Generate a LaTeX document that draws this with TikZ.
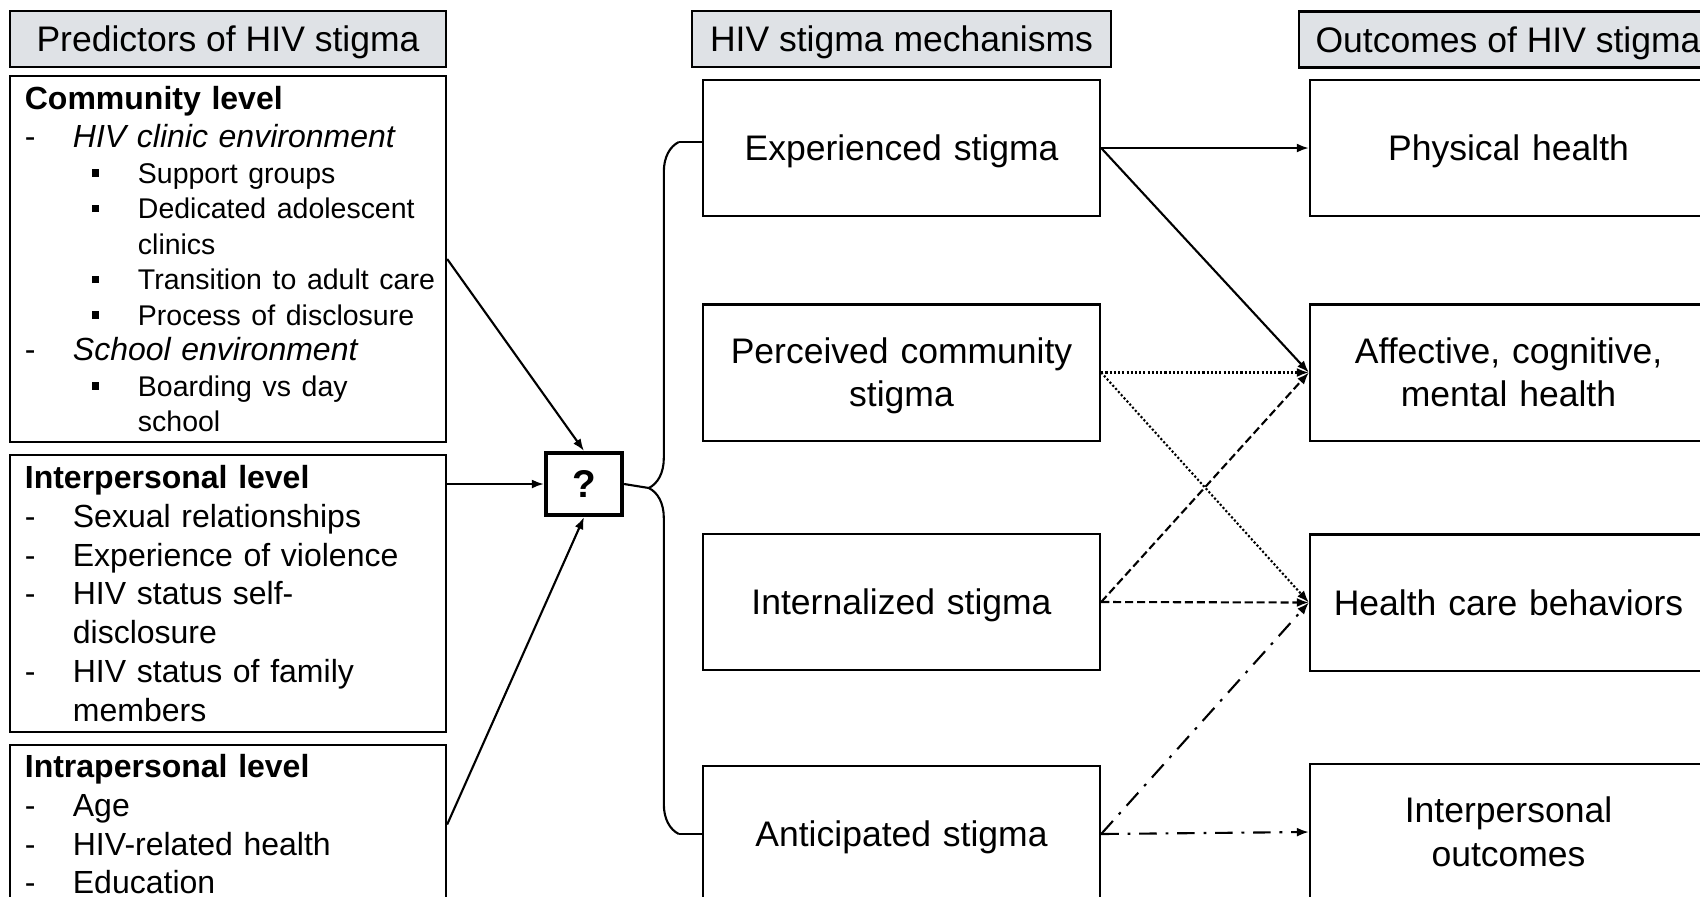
\documentclass[tikz,border=0pt]{standalone}
\usepackage{fontspec}
\setmainfont{Liberation Sans}
\usetikzlibrary{calc,arrows.meta,decorations.pathreplacing}

\definecolor{headgray}{RGB}{223,226,230}

% Line helpers for the predictor lists
\newcommand{\titlefont}{\fontsize{9.1}{10}\selectfont\bfseries}
\newcommand{\subfont}{\fontsize{8.1}{10}\selectfont}
\newcommand{\dashline}[1]{\mbox{\makebox[0.48cm][l]{-}#1}}
\newcommand{\boxline}[1]{\mbox{\hspace*{0.67cm}\makebox[0.46cm][l]{\rule[0.065cm]{0.075cm}{0.075cm}}\subfont #1}}
\newcommand{\hangline}[1]{\mbox{\hspace*{0.48cm}#1}}
\newcommand{\subline}[1]{\mbox{\hspace*{1.13cm}\subfont #1}}

\tikzset{
  header/.style={draw, fill=headgray, minimum height=0.56cm, inner sep=0pt, text depth=0pt, font=\fontsize{10.1}{12}\selectfont},
  levelbox/.style={draw, align=left, text width=4.06cm, inner xsep=0.15cm, inner ysep=0pt, minimum height=#1},
  stigbox/.style={draw, align=center, text width=3.77cm, inner xsep=0.1cm, minimum height=1.36cm, font=\fontsize{10.1}{12.4}\selectfont},
  qbox/.style={draw, line width=1.2pt, minimum width=0.76cm, minimum height=0.62cm, inner sep=0pt, font=\fontsize{11}{13}\selectfont\bfseries},
  link/.style={-{Latex[length=1.2mm,width=0.9mm]}},
  dotlink/.style={link, dash pattern=on 0.6pt off 0.6pt},
  dashlink/.style={link, dash pattern=on 2.3pt off 1.1pt},
  dotdashlink/.style={link, dash pattern=on 5pt off 2.5pt on 0.8pt off 2.5pt}
}

\begin{document}
\begin{tikzpicture}[x=0.01cm, y=-0.01cm, line width=0.6pt]
\useasboundingbox (0,0) rectangle (1700,896);
\clip (0,0) rectangle (1700,896);

% Column headers
\node[header, minimum width=4.36cm] (hpred) at (228,39) {Predictors of HIV stigma};
\node[header, minimum width=4.19cm] (hmech) at (901.5,39) {HIV stigma mechanisms};
\node[header, minimum width=4.18cm] (hout) at (1508,39.5) {Outcomes of HIV stigma};

% Predictor boxes
\node[levelbox=3.66cm, font=\fontsize{9.1}{10.1}\selectfont] (comm) at (228,259) {%
  {\titlefont Community level}\\[0.03cm]
  \dashline{\textit{HIV clinic environment}}\\
  \boxline{Support groups}\\
  \boxline{Dedicated adolescent}\\
  \subline{clinics}\\
  \boxline{Transition to adult care}\\
  \boxline{Process of disclosure}\\
  \dashline{\textit{School environment}}\\
  \boxline{Boarding vs day}\\
  \subline{school}};
\node[levelbox=2.77cm, font=\fontsize{9.1}{11}\selectfont] (inter) at (228,593.5) {%
  {\titlefont Interpersonal level}\\
  \dashline{Sexual relationships}\\
  \dashline{Experience of violence}\\
  \dashline{HIV status self-}\\
  \hangline{disclosure}\\
  \dashline{HIV status of family}\\
  \hangline{members}};
\node[levelbox=1.59cm, font=\fontsize{9.1}{11}\selectfont] (intra) at (228,824.5) {%
  {\titlefont Intrapersonal level}\\
  \dashline{Age}\\
  \dashline{HIV-related health}\\
  \dashline{Education}};

% Unknown link
\node[qbox] (q) at (584,484) {?};

% Mechanisms (depth keeps one- and two-line texts centred)
\foreach \nm/\yc/\dep/\txt in {exper/148/0/{Experienced stigma}, perc/372.5/0.44/{Perceived community\\stigma},
    intern/602/0/{Internalized stigma}, antic/834/0/{Anticipated stigma}}
  \node[stigbox, text depth=\dep cm] (\nm) at (901.5,\yc) {\txt};

% Outcomes
\foreach \nm/\yc/\dep/\txt in {phys/148/0/{Physical health}, affe/372.5/0.44/{Affective, cognitive,\\mental health},
    care/602.5/0/{Health care behaviors}, inpo/832/0.44/{Interpersonal\\outcomes}}
  \node[stigbox, text depth=\dep cm] (\nm) at (1508.5,\yc) {\txt};

% Predictors into the unknown link
\draw[link] (comm.east) -- (q.north);
\draw[link] (q.west -| inter.east) -- (q.west);
\draw[link] (intra.east) -- (q.south);

% Brace out to the mechanisms
\coordinate (bt) at ([xshift=-0.23cm,yshift=0.06cm]exper.west);
\coordinate (bb) at ([xshift=-0.23cm]antic.west);
\draw[decorate, decoration={brace, amplitude=0.3cm}] (bb) -- (bt);
\draw (bt) -- (bt -| exper.west);
\draw (bb) -- (antic.west);
\draw (q.east) -- ($(bt)!0.5!(bb) + (-30,0)$);

% Mechanisms to outcomes
\draw[link] (exper.east) -- (phys.west);
\draw[link] (exper.east) -- (affe.west);
\draw[dotlink] (perc.east) -- (affe.west);
\draw[dotlink] (perc.east) -- (care.west);
\draw[dashlink] (intern.east) -- (affe.west);
\draw[dashlink] (intern.east) -- (care.west);
\draw[dotdashlink] (antic.east) -- (care.west);
\draw[dotdashlink] (antic.east) -- (inpo.west);

\end{tikzpicture}
\end{document}
